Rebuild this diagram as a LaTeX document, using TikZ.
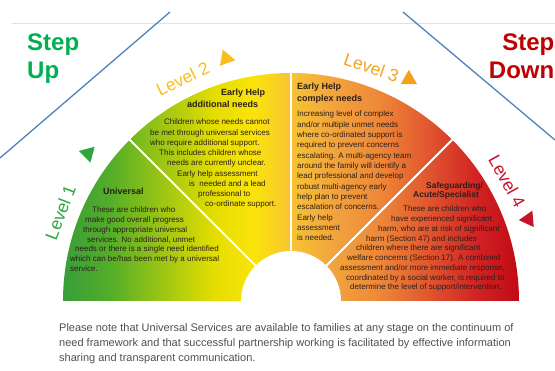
\documentclass[tikz,border=0pt]{standalone}
\usepackage{fontspec}
\setmainfont{Liberation Sans}
\usetikzlibrary{shapes.geometric}

\definecolor{stepgreen}{RGB}{0,176,80}
\definecolor{stepred}{RGB}{192,0,0}
\definecolor{lvlone}{RGB}{45,165,65}
\definecolor{lvltwo}{RGB}{250,190,30}
\definecolor{lvlthree}{RGB}{243,162,30}
\definecolor{lvlfour}{RGB}{200,20,40}
\definecolor{bodytext}{RGB}{45,30,25}
\definecolor{notegray}{RGB}{80,80,80}
\definecolor{diagblue}{RGB}{79,129,189}

\pgfdeclarehorizontalshading{fanshade}{100bp}{
 rgb(0bp)=(0.22,0.62,0.22);
 rgb(25bp)=(0.22,0.62,0.22);
 rgb(30.2bp)=(0.33,0.68,0.16);
 rgb(35.6bp)=(0.60,0.77,0.08);
 rgb(41.7bp)=(0.90,0.87,0.0);
 rgb(46bp)=(0.98,0.89,0.04);
 rgb(49.9bp)=(0.97,0.77,0.20);
 rgb(54.3bp)=(0.95,0.65,0.24);
 rgb(59.8bp)=(0.93,0.53,0.22);
 rgb(65.2bp)=(0.88,0.33,0.18);
 rgb(70.2bp)=(0.82,0.14,0.14);
 rgb(75bp)=(0.76,0.04,0.08);
 rgb(100bp)=(0.76,0.04,0.08)}

\tikzset{
 stepword/.style={font=\fontsize{24}{28}\selectfont\bfseries, inner sep=0},
 lvllabel/.style={font=\fontsize{17.5}{20}\selectfont, inner sep=0},
 lvltri/.style={regular polygon, regular polygon sides=3, minimum size=19pt, inner sep=0},
 head/.style={font=\fontsize{9}{12}\selectfont\bfseries, text=bodytext, align=left, anchor=north west, inner sep=0},
 blurb/.style={font=\fontsize{8}{9.75}\selectfont, text=bodytext, align=left, anchor=north west, inner sep=0}
}

\begin{document}
\begin{tikzpicture}[x=1pt, y=1pt]
\path[use as bounding box] (-291,-69) rectangle (264,301);
\clip (-291,-69) rectangle (264,301);

\draw[black!12, line width=.8pt] (-279,278) -- (264,278);
\draw[diagblue, line width=1.3pt] (-121,289) -- (-291,143);
\draw[diagblue, line width=1.3pt] (112,289) -- (264,161);

\node[stepword, text=stepgreen, align=left, anchor=north west] (stepup) at (-264,267) {Step\\Up};
\node[stepword, text=stepred, align=right, anchor=north east] (stepdown) at (263.5,267) {Step\\Down};

\shade[shading=fanshade] (-228,0) arc[start angle=180, end angle=0, radius=228] -- cycle;
\fill[white] (-50,0) arc[start angle=180, end angle=0, radius=50] -- cycle;
\foreach \a in {45,90,135} {
 \draw[white, line width=2pt] (\a:50) -- (\a:229);
}

\foreach \a/\n/\c in {159/1/lvlone, 116/2/lvltwo, 71/3/lvlthree, 29/4/lvlfour} {
 \node[lvllabel, text=\c, rotate=\a-90] (level\n) at (\a:247) {Level \n};
}
\foreach \a/\r/\n/\c in {144/195/1/lvlone, 105/-100/2/lvltwo, 62/0/3/lvlthree, 19/95/4/lvlfour} {
 \node[lvltri, fill=\c, rotate=\r] (tri\n) at (\a:251) {};
}

\node[head] (univtitle) at (-188,113.5) {Universal};
\node[blurb, font=\fontsize{8}{9.7}\selectfont] (univtext) at (-221,94) {\hspace*{22pt}These are children who\\
\hspace*{15pt}make good overall progress\\
\hspace*{13pt}through appropriate universal\\
\hspace*{17pt}services. No additional, unmet\\
\hspace*{5pt}needs or there is a single need identified\\
which can be/has been met by a universal\\
service.};

\node[head] (addtitle) at (-104,212.5) {\hspace*{34pt}Early Help\\additional needs};
\node[blurb, font=\fontsize{8}{10.25}\selectfont] (addtext) at (-141,182) {\hspace*{14pt}Children whose needs cannot\\
be met through universal services\\
who require additional support.\\
\hspace*{9pt}This includes children whose\\
\hspace*{17pt}needs are currently unclear.\\
\hspace*{27pt}Early help assessment\\
\hspace*{39pt}is\ \ needed and a lead\\
\hspace*{48pt}professional to\\
\hspace*{55pt}co-ordinate support.};

\node[head] (comptitle) at (6,218.5) {Early Help\\complex needs};
\node[blurb, font=\fontsize{8}{10.33}\selectfont] (comptext) at (6,190) {Increasing level of complex\\
and/or multiple unmet needs\\
where co-ordinated support is\\
required to prevent concerns\\
escalating. A multi-agency team\\
around the family will identify a\\
lead professional and develop\\
robust multi-agency early\\
help plan to prevent\\
escalation of concerns.\\
Early help\\
assessment\\
is needed.};

\node[head, font=\fontsize{8.5}{9.5}\selectfont\bfseries] (safetitle) at (122,119) {\hspace*{13pt}Safeguarding/\\Acute/Specialist};
\node[blurb] (safetext) at (49,95) {\hspace*{63pt}These are children who\\
\hspace*{51pt}have experienced significant\\
\hspace*{38pt}harm, who are at risk of significant\\
\hspace*{26pt}harm (Section 47) and includes\\
\hspace*{16pt}children where there are significant\\
\hspace*{7pt}welfare concerns (Section 17). A combined\\
assessment and/or more immediate response,\\
\hspace*{6pt}coordinated by a social worker, is required to\\
\hspace*{10pt}determine the level of support/intervention.};

\node[font=\fontsize{11}{15}\selectfont, text=notegray, align=left, anchor=north west, inner sep=0] (note) at (-232,-22) {Please note that Universal Services are available to families at any stage on the continuum of\\
need framework and that successful partnership working is facilitated by effective information\\
sharing and transparent communication.};
\end{tikzpicture}
\end{document}
